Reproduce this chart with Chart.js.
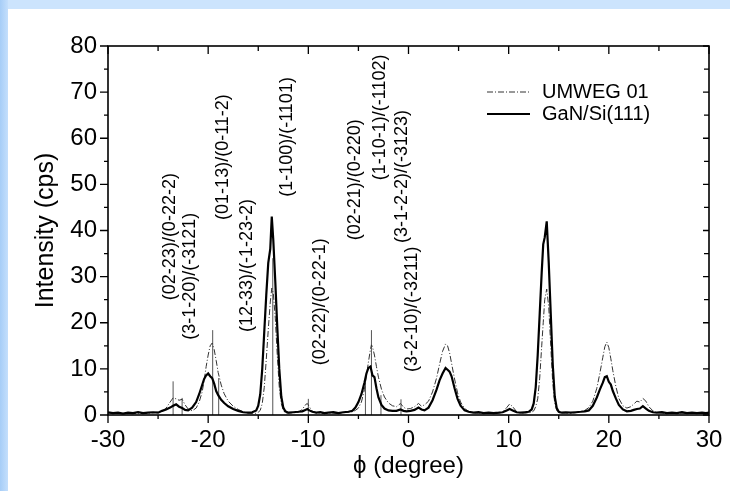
<!DOCTYPE html>
<html>
<head>
<meta charset="utf-8">
<title>GaN/Si(111) phi scan</title>
<script src="https://cdn.jsdelivr.net/npm/chart.js@4.4.1/dist/chart.umd.min.js"></script>
<style>
  html, body { margin: 0; padding: 0; background: #fff; }
  #phi-chart { display: block; }
</style>
</head>
<body>
<canvas id="phi-chart" width="730" height="491"></canvas>
<script>
// phi positions (degree) shared by both scans
const phi = [
  -30, -29.5, -29, -28.5, -28, -27.5, -27, -26.5, -26, -25.5, -25, -24.6, -24.2, -23.8, -23.5, -23.2, -22.9, -22.6, -22.3, -22.0,
  -21.6, -21.2, -20.9, -20.6, -20.4, -20.2, -20.0, -19.8, -19.6, -19.4, -19.2, -19.0, -18.7, -18.4, -18.0, -17.5, -17.0, -16.5, -16.0, -15.6,
  -15.2, -15.0, -14.8, -14.6, -14.4, -14.2, -14.0, -13.8, -13.65, -13.5, -13.3, -13.1, -12.9, -12.7, -12.5, -12.3, -12.0, -11.5, -11.0, -10.6,
  -10.3, -10.1, -9.9, -9.6, -9.2, -8.8, -8.4, -8.0, -7.5, -7.0, -6.5, -6.0, -5.6, -5.3, -5.0, -4.7, -4.4, -4.2, -4.0, -3.8,
  -3.7, -3.6, -3.4, -3.2, -3.0, -2.7, -2.4, -2.0, -1.6, -1.2, -0.8, -0.5, -0.2, 0.2, 0.6, 1.0, 1.3, 1.6, 2.0, 2.4,
  2.8, 3.1, 3.4, 3.7, 3.9, 4.1, 4.3, 4.6, 4.9, 5.2, 5.6, 6.0, 6.5, 7.0, 7.5, 8.0, 8.5, 9.0, 9.4, 9.8,
  10.1, 10.4, 10.8, 11.2, 11.6, 12.0, 12.3, 12.5, 12.7, 12.9, 13.1, 13.3, 13.45, 13.6, 13.8, 14.0, 14.2, 14.4, 14.6, 14.8,
  15.0, 15.3, 15.7, 16.2, 16.7, 17.2, 17.6, 18.0, 18.4, 18.8, 19.1, 19.4, 19.6, 19.8, 20.0, 20.2, 20.4, 20.7, 21.0, 21.4,
  21.8, 22.2, 22.5, 22.8, 23.1, 23.4, 23.7, 24.0, 24.4, 24.8, 25.3, 25.8, 26.3, 26.8, 27.3, 27.8, 28.3, 28.8, 29.3, 29.7,
  30
];

// measured intensity (cps)
const ganSi = [
  0.6, 0.4, 0.5, 0.3, 0.5, 0.4, 0.6, 0.4, 0.5, 0.6, 0.5, 0.9, 1.2, 1.6, 2.0, 2.3, 1.8, 1.5, 1.1, 1.0,
  1.6, 2.8, 4.5, 6.5, 7.8, 8.6, 9.0, 8.4, 8.0, 6.8, 5.2, 4.3, 3.3, 2.6, 1.9, 1.3, 0.9, 0.6, 0.5, 0.6,
  1.0, 2.0, 4.5, 10, 18, 26, 33, 36, 43, 38, 29, 19, 10, 4, 1.6, 0.8, 0.5, 0.6, 0.7, 0.8,
  1.1, 1.3, 1.0, 0.7, 0.5, 0.6, 0.4, 0.5, 0.6, 0.4, 0.6, 0.7, 0.9, 1.6, 2.8, 4.5, 7.0, 9.0, 10.2, 10.5,
  9.6, 8.6, 8.2, 5.8, 3.8, 2.2, 1.4, 1.0, 0.9, 0.9, 1.2, 0.9, 0.8, 0.9, 1.1, 1.6, 1.2, 1.0, 1.6, 3.2,
  5.5, 7.5, 9.0, 10.2, 9.8, 9.4, 8.4, 5.8, 3.5, 2.0, 1.0, 0.7, 0.5, 0.6, 0.4, 0.5, 0.4, 0.5, 0.6, 1.0,
  1.3, 1.0, 0.6, 0.5, 0.6, 0.7, 1.2, 2.5, 6, 13, 22, 31, 37, 38.5, 42, 33, 22, 11, 4, 1.5,
  0.7, 0.5, 0.6, 0.5, 0.6, 0.7, 0.8, 1.0, 2.0, 3.8, 5.5, 7.0, 8.2, 8.4, 7.2, 6.6, 5.2, 3.6, 2.2, 1.2,
  0.8, 0.9, 1.1, 1.3, 1.4, 1.9, 1.4, 0.9, 0.6, 0.5, 0.6, 0.4, 0.5, 0.4, 0.6, 0.4, 0.5, 0.4, 0.5, 0.4,
  0.5
];

// Umweganregung simulation
const umweg = [
  0.4, 0.3, 0.4, 0.3, 0.3, 0.3, 0.4, 0.3, 0.4, 0.5, 0.6, 0.8, 1.5, 2.8, 3.7, 3.5, 3.2, 3.4, 2.2, 1.3,
  0.9, 1.5, 2.8, 5, 7.5, 10.5, 13, 15, 15.6, 14.2, 11.8, 9.2, 6.5, 4.6, 3.0, 1.9, 1.2, 0.7, 0.4, 0.3,
  0.4, 0.6, 1.0, 2.5, 6, 12, 18.5, 24.5, 27.5, 26.5, 21, 13, 6, 2.5, 1.0, 0.5, 0.4, 0.5, 0.6, 1.2,
  2.2, 2.5, 1.8, 0.8, 0.4, 0.4, 0.3, 0.4, 0.4, 0.3, 0.5, 0.6, 0.7, 1.0, 1.5, 2.8, 5.5, 8.5, 11.5, 14.2,
  15.2, 14.8, 13, 10.5, 8.2, 5.6, 3.9, 2.6, 2.0, 1.8, 2.5, 1.7, 1.3, 1.4, 1.8, 2.5, 1.9, 2.2, 3.0, 5.0,
  8.0, 11, 13.8, 15.4, 15.0, 13.5, 11.2, 7.8, 4.8, 2.8, 1.4, 0.8, 0.4, 0.4, 0.3, 0.4, 0.3, 0.4, 0.6, 1.6,
  2.4, 1.8, 0.7, 0.4, 0.4, 0.5, 0.6, 0.9, 1.8, 3.5, 8, 15, 20, 25, 27.3, 23.5, 15, 7, 2.5, 1.0,
  0.5, 0.4, 0.4, 0.4, 0.5, 0.7, 1.0, 1.6, 3.0, 5.8, 9.0, 12.5, 14.8, 15.8, 14.6, 12.2, 9.6, 6.2, 3.6, 2.0,
  1.5, 1.8, 2.4, 3.0, 2.8, 3.6, 3.0, 1.8, 0.9, 0.5, 0.4, 0.3, 0.4, 0.3, 0.4, 0.3, 0.4, 0.3, 0.3, 0.3,
  0.4
];

// calculated multiple-diffraction positions and their heights
const markerPhi = [-23.5, -22.6, -19.55, -18.95, -13.55, -10.0, -4.3, -3.7, -2.75, -0.75];
const markerTop = [7.3, 3.7, 18.4, 8.0, 34, 3.5, 8.0, 18.4, 4.3, 3.4];

// reflection pairs written next to the peaks
const reflLabels = [
  '(02-23)/(0-22-2)', '(3-1-20)/(-3121)', '(01-13)/(0-11-2)', '(12-33)/(-1-23-2)', '(1-100)/(-1101)',
  '(02-22)/(0-22-1)', '(02-21)/(0-220)', '(1-10-1)/(-1102)', '(3-1-2-2)/(-3123)', '(3-2-10)/(-3211)'
];
const reflPhi = [-23.8, -21.8, -18.5, -16.1, -12.1, -8.85, -5.35, -2.85, -0.65, 0.35];
const reflBase = [24.9, 16.3, 42.3, 18.0, 47.3, 10.8, 37.9, 50.9, 37.3, 9.3];

const xTicks = [-30, -20, -10, 0, 10, 20, 30];
const yTicks = [0, 10, 20, 30, 40, 50, 60, 70, 80];

const FONT = "'Liberation Sans', Arial, Helvetica, sans-serif";

const pairs = (xs, ys) => xs.map((x, i) => ({x: x, y: ys[i]}));

// vertical sticks: 0 -> height, broken by nulls
const sticks = [];
markerPhi.forEach((p, i) => {
  sticks.push({x: p, y: 0}, {x: p, y: markerTop[i]}, {x: p, y: null});
});

const backdrop = {
  id: 'backdrop',
  beforeDraw(chart) {
    const ctx = chart.ctx;
    ctx.save();
    ctx.fillStyle = '#ffffff';
    ctx.fillRect(0, 0, chart.width, chart.height);
    ctx.fillStyle = '#cce4fd';
    ctx.fillRect(0, 0, chart.width, 9);
    const g = ctx.createLinearGradient(0, 0, 8, 0);
    g.addColorStop(0, '#a6cdf7');
    g.addColorStop(1, '#c4dffc');
    ctx.fillStyle = g;
    ctx.fillRect(0, 0, 8, chart.height);
    ctx.restore();
  }
};

const frame = {
  id: 'frame',
  afterDraw(chart) {
    const {ctx, chartArea: a, scales} = chart;
    const xs = scales.x, ys = scales.y;
    ctx.save();
    ctx.strokeStyle = '#000';
    ctx.lineWidth = 1.6;
    ctx.strokeRect(a.left, a.top, a.right - a.left, a.bottom - a.top);
    ctx.lineWidth = 1.3;
    ctx.beginPath();
    for (let i = 0; i < xTicks.length; i++) {
      const v = xTicks[i];
      const px = xs.getPixelForValue(v);
      ctx.moveTo(px, a.bottom); ctx.lineTo(px, a.bottom + 8);
      ctx.moveTo(px, a.top); ctx.lineTo(px, a.top + 8);
      if (i < xTicks.length - 1) {
        const m = xs.getPixelForValue((v + xTicks[i + 1]) / 2);
        ctx.moveTo(m, a.bottom); ctx.lineTo(m, a.bottom + 4);
        ctx.moveTo(m, a.top); ctx.lineTo(m, a.top + 5);
      }
    }
    for (let i = 0; i < yTicks.length; i++) {
      const v = yTicks[i];
      const py = ys.getPixelForValue(v);
      ctx.moveTo(a.left, py); ctx.lineTo(a.left - 8, py);
      ctx.moveTo(a.right, py); ctx.lineTo(a.right - 6, py);
      if (i < yTicks.length - 1) {
        const m = ys.getPixelForValue((v + yTicks[i + 1]) / 2);
        ctx.moveTo(a.left, m); ctx.lineTo(a.left - 4, m);
        ctx.moveTo(a.right, m); ctx.lineTo(a.right - 5, m);
      }
    }
    ctx.stroke();
    ctx.restore();
  }
};

const reflections = {
  id: 'reflections',
  afterDatasetsDraw(chart) {
    const {ctx, scales} = chart;
    ctx.save();
    ctx.fillStyle = '#000';
    ctx.font = '18px ' + FONT;
    ctx.textAlign = 'left';
    ctx.textBaseline = 'middle';
    reflLabels.forEach((t, i) => {
      ctx.save();
      ctx.translate(scales.x.getPixelForValue(reflPhi[i]), scales.y.getPixelForValue(reflBase[i]));
      ctx.rotate(-Math.PI / 2);
      ctx.fillText(t, 0, 0);
      ctx.restore();
    });
    ctx.restore();
  }
};

// legend sits inside the plot, top right
const key = {
  id: 'key',
  afterDatasetsDraw(chart) {
    const {ctx, chartArea: a} = chart;
    const entries = [chart.data.datasets[1], chart.data.datasets[0]];
    const x0 = a.right - 222, y0 = a.top + 46;
    ctx.save();
    ctx.font = '20px ' + FONT;
    ctx.textBaseline = 'middle';
    ctx.textAlign = 'left';
    entries.forEach((ds, i) => {
      const y = y0 + i * 22;
      ctx.strokeStyle = ds.borderColor;
      ctx.lineWidth = ds.borderWidth;
      ctx.setLineDash(ds.borderDash || []);
      ctx.beginPath();
      ctx.moveTo(x0, y);
      ctx.lineTo(x0 + 43, y);
      ctx.stroke();
      ctx.setLineDash([]);
      ctx.fillStyle = '#000';
      ctx.fillText(ds.label, x0 + 55, y);
    });
    ctx.restore();
  }
};

const ctx = document.getElementById('phi-chart').getContext('2d');
const chart = new Chart(ctx, {
  type: 'line',
  data: {
    datasets: [{
      label: 'GaN/Si(111)',
      data: pairs(phi, ganSi),
      borderColor: '#000',
      borderWidth: 2.2,
      pointRadius: 0,
      tension: 0
    }, {
      label: 'UMWEG 01',
      data: pairs(phi, umweg),
      borderColor: '#333',
      borderWidth: 1,
      borderDash: [6, 2, 1, 2],
      pointRadius: 0,
      tension: 0
    }, {
      label: 'markers',
      data: sticks,
      borderColor: '#555',
      borderWidth: 1,
      pointRadius: 0,
      spanGaps: false
    }]
  },
  options: {
    responsive: false,
    animation: false,
    events: [],
    layout: { padding: { top: 46, right: 21, left: 0, bottom: 0 } },
    plugins: {
      legend: { display: false },
      tooltip: { enabled: false }
    },
    scales: {
      x: {
        type: 'linear',
        min: -30,
        max: 30,
        afterBuildTicks: s => { s.ticks = xTicks.map(v => ({value: v})); },
        afterFit: s => { s.height = 76; },
        grid: { display: false, drawTicks: true, tickLength: 8 },
        border: { display: false },
        ticks: { color: '#000', padding: 3, font: { family: FONT, size: 24 } },
        title: {
          display: true,
          text: 'ϕ (degree)',
          color: '#000',
          font: { family: FONT, size: 24 },
          padding: { top: 0, bottom: 10 }
        }
      },
      y: {
        min: 0,
        max: 80,
        afterBuildTicks: s => { s.ticks = yTicks.map(v => ({value: v})); },
        afterFit: s => { s.width = 108; },
        grid: { display: false, drawTicks: true, tickLength: 8 },
        border: { display: false },
        ticks: { color: '#000', padding: 3, font: { family: FONT, size: 24 } },
        title: {
          display: true,
          text: 'Intensity (cps)',
          color: '#000',
          font: { family: FONT, size: 25 },
          padding: { top: 31, bottom: 0 }
        }
      }
    }
  },
  plugins: [backdrop, reflections, key, frame]
});
</script>
</body>
</html>
